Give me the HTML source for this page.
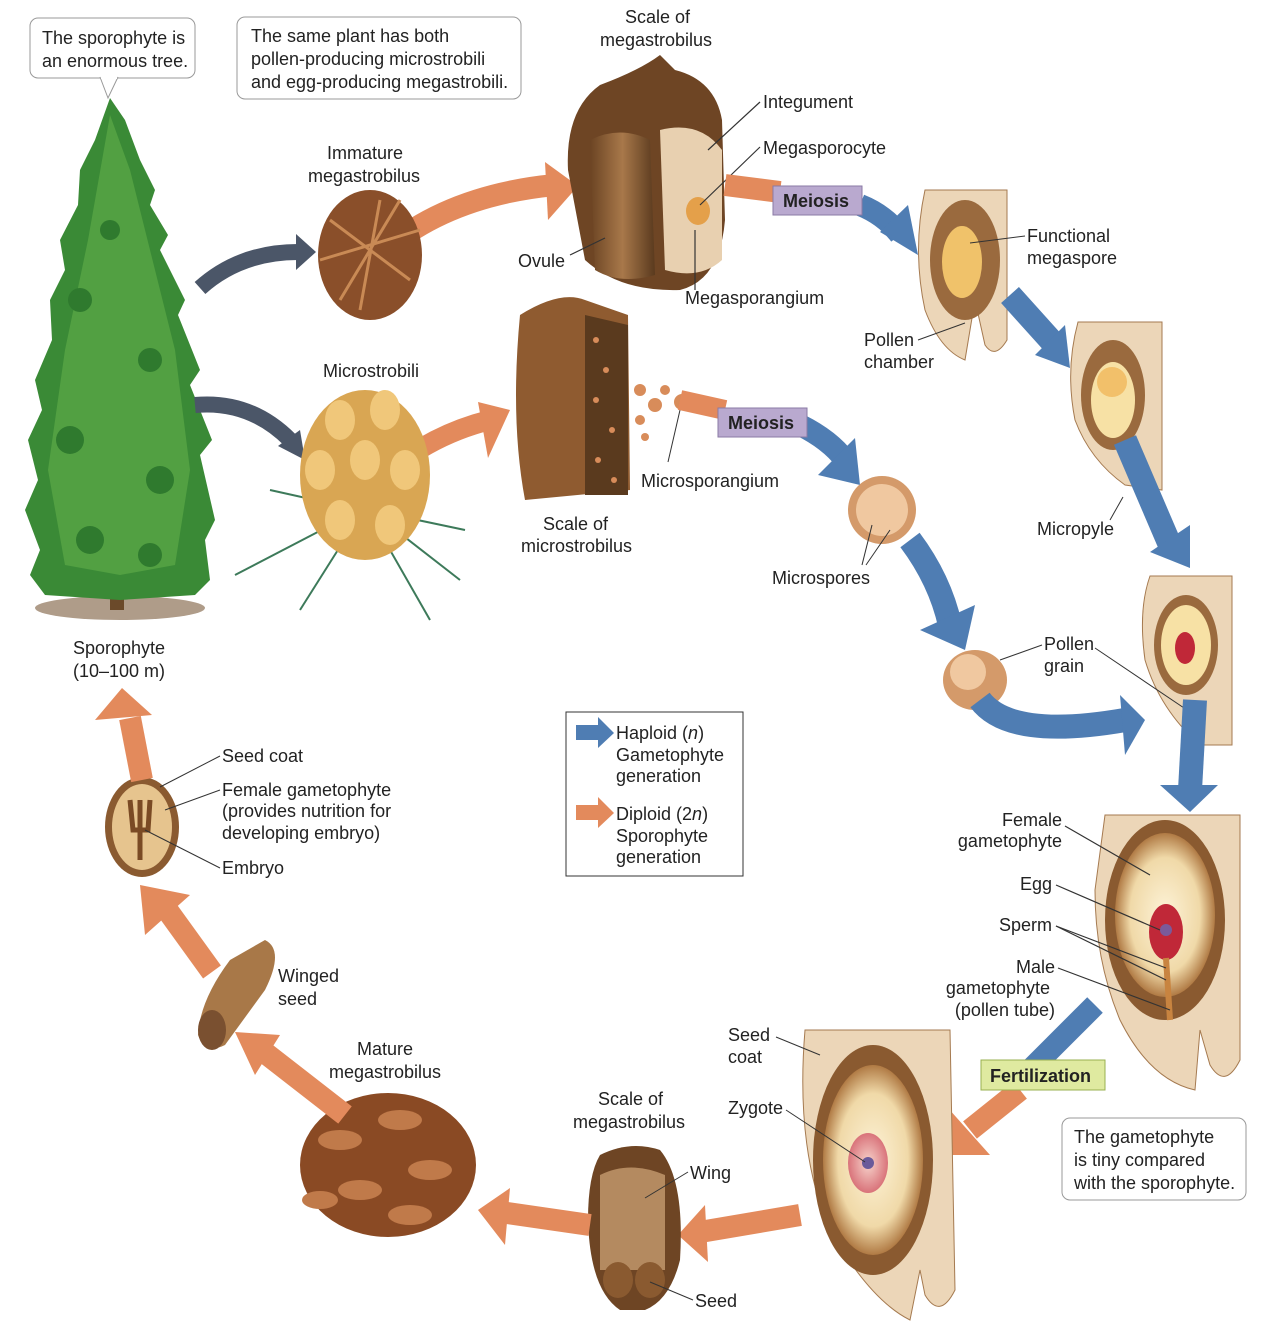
<!DOCTYPE html>
<html><head><meta charset="utf-8">
<style>
html,body{margin:0;padding:0;background:#fff;}
svg{display:block;}
text{font-family:"Liberation Sans",sans-serif;font-size:18px;fill:#222;}
.b{font-weight:bold;}
</style></head><body>
<svg width="1282" height="1340" viewBox="0 0 1282 1340" xmlns="http://www.w3.org/2000/svg">
<rect width="1282" height="1340" fill="#fff"/>
<defs>
<linearGradient id="br" x1="0" x2="1"><stop offset="0" stop-color="#6b4423"/><stop offset=".5" stop-color="#a8784a"/><stop offset="1" stop-color="#5a3a1e"/></linearGradient>
<radialGradient id="cr"><stop offset="0" stop-color="#fdf3d8"/><stop offset=".7" stop-color="#f0d9a8"/><stop offset="1" stop-color="#b07a44"/></radialGradient>
<radialGradient id="pk"><stop offset="0" stop-color="#f7d4cc"/><stop offset="1" stop-color="#d9737a"/></radialGradient>
</defs>

<!-- Tree -->
<ellipse cx="120" cy="608" rx="85" ry="12" fill="#7a5a3a" opacity=".6"/>
<rect x="110" y="300" width="14" height="310" fill="#6b4a2a"/>
<path d="M110,98 L125,120 L140,160 L155,190 L150,205 L168,235 L160,250 L185,300 L178,315 L200,370 L190,385 L212,440 L200,455 L215,520 L205,540 L210,580 L195,595 L120,600 L45,595 L30,575 L40,550 L25,510 L38,480 L28,440 L42,410 L35,380 L52,340 L50,300 L65,270 L60,240 L78,205 L80,170 L95,140 Z" fill="#3a8a36"/>
<path d="M110,115 L130,170 L150,250 L175,350 L190,470 L175,565 L120,575 L65,565 L48,470 L65,350 L88,240 Z" fill="#52a042"/>
<g fill="#2f7a2e"><circle cx="80" cy="300" r="12"/><circle cx="150" cy="360" r="12"/><circle cx="70" cy="440" r="14"/><circle cx="160" cy="480" r="14"/><circle cx="110" cy="230" r="10"/><circle cx="90" cy="540" r="14"/><circle cx="150" cy="555" r="12"/></g>

<!-- callouts -->
<rect x="30" y="18" width="165" height="60" rx="8" fill="#fff" stroke="#999"/>
<path d="M100,77 L108,98 L118,77" fill="#fff" stroke="#999"/>
<rect x="101" y="75" width="16" height="4" fill="#fff"/>
<text x="42" y="44">The sporophyte is</text><text x="42" y="67">an enormous tree.</text>
<rect x="237" y="17" width="284" height="82" rx="8" fill="#fff" stroke="#999"/>
<text x="251" y="42">The same plant has both</text><text x="251" y="65">pollen-producing microstrobili</text><text x="251" y="88">and egg-producing megastrobili.</text>

<!-- dark arrows -->
<path d="M200,288 Q240,252 298,252" stroke="#4b5668" stroke-width="16" fill="none"/>
<polygon points="296,234 316,252 296,270" fill="#4b5668"/>
<path d="M195,405 Q250,400 290,440" stroke="#4b5668" stroke-width="16" fill="none"/>
<polygon points="278,446 305,460 300,430" fill="#4b5668"/>

<!-- orange arrows top -->
<path d="M385,250 Q450,195 555,185" stroke="#e38a5c" stroke-width="22" fill="none"/>
<polygon points="545,162 578,186 548,220" fill="#e38a5c"/>
<path d="M355,505 Q410,440 490,420" stroke="#e38a5c" stroke-width="20" fill="none"/>
<polygon points="478,402 510,410 488,458" fill="#e38a5c"/>

<!-- immature megastrobilus -->
<ellipse cx="370" cy="255" rx="52" ry="65" fill="#8a4f2a"/>
<path d="M330,220 L410,280 M320,260 L420,230 M340,300 L400,200 M360,310 L380,200" stroke="#c98a55" stroke-width="3"/>
<text x="327" y="159">Immature</text><text x="308" y="182">megastrobilus</text>

<!-- microstrobili -->
<g stroke="#3d7a5a" stroke-width="2"><line x1="360" y1="510" x2="235" y2="575"/><line x1="360" y1="510" x2="270" y2="490"/><line x1="370" y1="510" x2="465" y2="530"/><line x1="370" y1="515" x2="430" y2="620"/><line x1="360" y1="515" x2="300" y2="610"/><line x1="370" y1="510" x2="460" y2="580"/></g>
<ellipse cx="365" cy="475" rx="65" ry="85" fill="#d9a653"/>
<g fill="#f0c77a"><ellipse cx="340" cy="420" rx="15" ry="20"/><ellipse cx="385" cy="410" rx="15" ry="20"/><ellipse cx="320" cy="470" rx="15" ry="20"/><ellipse cx="365" cy="460" rx="15" ry="20"/><ellipse cx="405" cy="470" rx="15" ry="20"/><ellipse cx="340" cy="520" rx="15" ry="20"/><ellipse cx="390" cy="525" rx="15" ry="20"/></g>
<text x="323" y="377">Microstrobili</text>

<text x="73" y="654">Sporophyte</text><text x="73" y="677">(10–100 m)</text>

<!-- scale of megastrobilus top -->
<path d="M660,55 Q640,70 600,85 Q565,110 568,170 L585,260 Q620,292 680,290 Q720,280 725,220 L722,120 Q715,80 675,70 Z" fill="#6e4524"/>
<path d="M590,140 Q620,125 650,140 L655,275 Q620,285 595,270 Z" fill="url(#br)"/>
<path d="M660,130 Q700,120 722,150 L722,260 Q700,280 665,270 Z" fill="#e8d0b0"/>
<ellipse cx="698" cy="211" rx="12" ry="14" fill="#e4a04a"/>
<text x="625" y="23">Scale of</text><text x="600" y="46">megastrobilus</text>
<g stroke="#333" stroke-width="1.2"><line x1="708" y1="150" x2="760" y2="102"/><line x1="700" y1="205" x2="760" y2="147"/><line x1="695" y1="230" x2="695" y2="290"/><line x1="570" y1="255" x2="605" y2="238"/></g>
<text x="763" y="108">Integument</text><text x="763" y="154">Megasporocyte</text><text x="685" y="304">Megasporangium</text><text x="518" y="267">Ovule</text>

<!-- meiosis top -->
<path d="M725,185 L780,192" stroke="#e38a5c" stroke-width="22"/>
<path d="M860,205 Q885,215 900,235" stroke="#4f7db3" stroke-width="22" fill="none"/>
<polygon points="880,232 918,255 908,205" fill="#4f7db3"/>
<rect x="773" y="186" width="89" height="29" fill="#b9a9cf" stroke="#8a7aa5"/>
<text x="783" y="207" class="b">Meiosis</text>

<!-- ovule 1 -->
<path d="M925,190 L1007,190 L1007,340 Q995,360 985,345 L975,300 L965,360 Q940,350 925,310 Q912,250 925,190 Z" fill="#ecd6b8" stroke="#a57a50"/>
<ellipse cx="965" cy="260" rx="35" ry="60" fill="#9a6a3e"/>
<ellipse cx="962" cy="262" rx="20" ry="36" fill="#f0c26a"/>
<text x="1027" y="242">Functional</text><text x="1027" y="264">megaspore</text>
<text x="864" y="346">Pollen</text><text x="864" y="368">chamber</text>
<line x1="970" y1="243" x2="1025" y2="236" stroke="#333"/><line x1="918" y1="340" x2="965" y2="323" stroke="#333"/>

<path d="M1010,295 L1055,345" stroke="#4f7db3" stroke-width="24"/>
<polygon points="1035,355 1070,368 1065,325" fill="#4f7db3"/>

<!-- ovule 2 -->
<path d="M1078,322 L1162,322 L1162,490 L1125,485 Q1090,460 1075,420 Q1065,370 1078,322 Z" fill="#ecd6b8" stroke="#a57a50"/>
<ellipse cx="1113" cy="395" rx="32" ry="55" fill="#9a6a3e"/>
<ellipse cx="1113" cy="400" rx="22" ry="38" fill="#f7e1a5"/>
<circle cx="1112" cy="382" r="15" fill="#f2c06a"/>
<path d="M1125,440 L1170,545" stroke="#4f7db3" stroke-width="24"/>
<polygon points="1150,552 1190,568 1190,525" fill="#4f7db3"/>
<text x="1037" y="535">Micropyle</text><line x1="1110" y1="520" x2="1123" y2="497" stroke="#333"/>

<!-- ovule 3 -->
<path d="M1150,576 L1232,576 L1232,745 Q1215,745 1200,745 Q1160,710 1145,660 Q1138,610 1150,576 Z" fill="#ecd6b8" stroke="#a57a50"/>
<ellipse cx="1186" cy="645" rx="32" ry="50" fill="#9a6a3e"/>
<ellipse cx="1186" cy="645" rx="25" ry="40" fill="#f7e1a5"/>
<ellipse cx="1185" cy="648" rx="10" ry="16" fill="#c02838"/>
<text x="1044" y="650">Pollen</text><text x="1044" y="672">grain</text>
<line x1="1095" y1="648" x2="1190" y2="712" stroke="#333"/><line x1="1042" y1="645" x2="1000" y2="660" stroke="#333"/>

<!-- scale of microstrobilus -->
<path d="M520,315 Q560,290 585,300 L628,315 L630,490 L525,500 Q510,420 520,315 Z" fill="#8f5b30"/>
<path d="M585,315 L628,325 L628,495 L585,495 Z" fill="#5a3a1e"/>
<g fill="#d88c5a"><circle cx="596" cy="340" r="3"/><circle cx="606" cy="370" r="3"/><circle cx="596" cy="400" r="3"/><circle cx="612" cy="430" r="3"/><circle cx="598" cy="460" r="3"/><circle cx="614" cy="480" r="3"/><circle cx="640" cy="390" r="6"/><circle cx="655" cy="405" r="7"/><circle cx="665" cy="390" r="5"/><circle cx="640" cy="420" r="5"/><circle cx="682" cy="402" r="8"/><circle cx="645" cy="437" r="4"/></g>
<text x="543" y="530">Scale of</text><text x="521" y="552">microstrobilus</text>
<text x="641" y="487">Microsporangium</text><line x1="668" y1="462" x2="680" y2="410" stroke="#333"/>

<path d="M680,400 L725,410" stroke="#e38a5c" stroke-width="20"/>
<path d="M800,425 Q830,440 845,460" stroke="#4f7db3" stroke-width="22" fill="none"/>
<polygon points="818,475 860,485 855,438" fill="#4f7db3"/>
<rect x="718" y="408" width="89" height="29" fill="#b9a9cf" stroke="#8a7aa5"/>
<text x="728" y="429" class="b">Meiosis</text>

<!-- microspores -->
<circle cx="882" cy="510" r="34" fill="#d49a6a"/><circle cx="882" cy="510" r="26" fill="#f0c8a0"/>
<text x="772" y="584">Microspores</text>
<line x1="872" y1="525" x2="862" y2="565" stroke="#333"/><line x1="890" y1="530" x2="866" y2="565" stroke="#333"/>
<path d="M910,540 Q940,580 950,625" stroke="#4f7db3" stroke-width="24" fill="none"/>
<polygon points="920,630 965,650 975,605" fill="#4f7db3"/>

<!-- pollen grain -->
<ellipse cx="975" cy="680" rx="32" ry="30" fill="#d49a6a"/><circle cx="968" cy="672" r="18" fill="#f0c8a0"/>
<path d="M980,700 Q1010,740 1125,720" stroke="#4f7db3" stroke-width="24" fill="none"/>
<polygon points="1120,695 1145,720 1125,755" fill="#4f7db3"/>
<path d="M1195,700 L1190,790" stroke="#4f7db3" stroke-width="24"/>
<polygon points="1160,785 1190,812 1218,785" fill="#4f7db3"/>

<!-- legend -->
<rect x="566" y="712" width="177" height="164" fill="#fff" stroke="#333"/>
<polygon points="576,725 598,725 598,717 614,733 598,748 598,740 576,740" fill="#4f7db3"/>
<text x="616" y="739">Haploid (<tspan font-style="italic">n</tspan>)</text><text x="616" y="761">Gametophyte</text><text x="616" y="782">generation</text>
<polygon points="576,805 598,805 598,797 614,813 598,828 598,820 576,820" fill="#e38a5c"/>
<text x="616" y="820">Diploid (2<tspan font-style="italic">n</tspan>)</text><text x="616" y="842">Sporophyte</text><text x="616" y="863">generation</text>

<!-- big female gametophyte -->
<path d="M1105,815 L1240,815 L1240,1060 Q1225,1090 1210,1065 L1200,1030 L1195,1090 Q1150,1080 1120,1020 Q1095,960 1095,890 Z" fill="#ecd6b8" stroke="#a57a50"/>
<ellipse cx="1165" cy="920" rx="60" ry="100" fill="#8a5a30"/>
<ellipse cx="1165" cy="915" rx="50" ry="82" fill="url(#cr)"/>
<ellipse cx="1166" cy="932" rx="17" ry="28" fill="#c02838"/><circle cx="1166" cy="930" r="6" fill="#7a5a9a"/>
<path d="M1166,958 L1170,1020" stroke="#c88440" stroke-width="6"/>
<text x="1062" y="826" text-anchor="end">Female</text><text x="1062" y="847" text-anchor="end">gametophyte</text>
<text x="1052" y="890" text-anchor="end">Egg</text><text x="1052" y="931" text-anchor="end">Sperm</text>
<text x="1055" y="973" text-anchor="end">Male</text><text x="1050" y="994" text-anchor="end">gametophyte</text><text x="1055" y="1016" text-anchor="end">(pollen tube)</text>
<g stroke="#333" stroke-width="1.2"><line x1="1065" y1="826" x2="1150" y2="875"/><line x1="1056" y1="885" x2="1160" y2="930"/><line x1="1056" y1="926" x2="1166" y2="968"/><line x1="1056" y1="926" x2="1166" y2="980"/><line x1="1058" y1="968" x2="1170" y2="1010"/></g>

<path d="M1095,1005 L1025,1075" stroke="#4f7db3" stroke-width="22"/>
<path d="M1020,1090 L970,1130" stroke="#e38a5c" stroke-width="22"/>
<polygon points="948,1108 952,1155 990,1155" fill="#e38a5c"/>
<rect x="981" y="1060" width="124" height="30" fill="#dfeaa0" stroke="#9ab050"/>
<text x="990" y="1082" class="b">Fertilization</text>

<rect x="1062" y="1118" width="184" height="82" rx="8" fill="#fff" stroke="#999"/>
<text x="1074" y="1143">The gametophyte</text><text x="1074" y="1166">is tiny compared</text><text x="1074" y="1189">with the sporophyte.</text>

<!-- zygote seed -->
<path d="M805,1030 L950,1030 L955,1290 Q940,1320 925,1295 L920,1270 L910,1320 Q870,1300 830,1230 Q795,1150 805,1030 Z" fill="#ecd6b8" stroke="#a57a50"/>
<ellipse cx="873" cy="1160" rx="60" ry="115" fill="#8a5a30"/>
<ellipse cx="873" cy="1160" rx="50" ry="95" fill="url(#cr)"/>
<ellipse cx="868" cy="1163" rx="20" ry="30" fill="url(#pk)"/><circle cx="868" cy="1163" r="6" fill="#6a5a9a"/>
<text x="728" y="1041">Seed</text><text x="728" y="1063">coat</text><text x="728" y="1114">Zygote</text>
<line x1="776" y1="1037" x2="820" y2="1055" stroke="#333"/><line x1="786" y1="1110" x2="865" y2="1162" stroke="#333"/>

<path d="M800,1215 L700,1232" stroke="#e38a5c" stroke-width="22"/>
<polygon points="705,1205 678,1235 708,1262" fill="#e38a5c"/>

<!-- lower scale -->
<path d="M600,1155 Q630,1140 660,1150 Q685,1180 680,1260 Q670,1300 645,1310 L620,1310 Q590,1290 588,1220 Q588,1175 600,1155 Z" fill="#6e4524"/>
<path d="M600,1175 Q630,1160 665,1175 L665,1270 L600,1270 Z" fill="#b48a60"/>
<ellipse cx="618" cy="1280" rx="15" ry="18" fill="#8a5a30"/><ellipse cx="650" cy="1280" rx="15" ry="18" fill="#8a5a30"/>
<text x="598" y="1105">Scale of</text><text x="573" y="1128">megastrobilus</text>
<text x="690" y="1179">Wing</text><text x="695" y="1307">Seed</text>
<line x1="645" y1="1198" x2="688" y2="1172" stroke="#333"/><line x1="650" y1="1282" x2="693" y2="1300" stroke="#333"/>

<path d="M590,1225 L500,1212" stroke="#e38a5c" stroke-width="22"/>
<polygon points="510,1188 478,1210 505,1245" fill="#e38a5c"/>

<!-- mature megastrobilus -->
<ellipse cx="388" cy="1165" rx="88" ry="72" fill="#8a4a24"/>
<g fill="#c07a4a"><ellipse cx="340" cy="1140" rx="22" ry="10"/><ellipse cx="400" cy="1120" rx="22" ry="10"/><ellipse cx="430" cy="1170" rx="22" ry="10"/><ellipse cx="360" cy="1190" rx="22" ry="10"/><ellipse cx="410" cy="1215" rx="22" ry="10"/><ellipse cx="320" cy="1200" rx="18" ry="9"/></g>
<text x="357" y="1055">Mature</text><text x="329" y="1078">megastrobilus</text>

<path d="M345,1115 L255,1045" stroke="#e38a5c" stroke-width="22"/>
<polygon points="235,1032 280,1035 255,1075" fill="#e38a5c"/>

<!-- winged seed -->
<path d="M265,940 Q285,950 265,990 L225,1045 Q205,1055 198,1035 Q200,1000 230,960 Z" fill="#a87848"/>
<ellipse cx="212" cy="1030" rx="14" ry="20" fill="#7a5030"/>
<text x="278" y="982">Winged</text><text x="278" y="1005">seed</text>

<path d="M212,972 L160,900" stroke="#e38a5c" stroke-width="22"/>
<polygon points="140,885 190,895 145,935" fill="#e38a5c"/>

<!-- seed -->
<ellipse cx="142" cy="827" rx="37" ry="50" fill="#8a5a30"/>
<ellipse cx="142" cy="827" rx="30" ry="43" fill="#e6c48e"/>
<path d="M140,800 L140,860 M130,800 L133,830 L148,830 L150,800" stroke="#7a4a24" stroke-width="5" fill="none"/>
<text x="222" y="762">Seed coat</text><text x="222" y="796">Female gametophyte</text><text x="222" y="817">(provides nutrition for</text><text x="222" y="839">developing embryo)</text><text x="222" y="874">Embryo</text>
<g stroke="#333"><line x1="160" y1="787" x2="220" y2="756"/><line x1="165" y1="810" x2="220" y2="790"/><line x1="145" y1="830" x2="220" y2="868"/></g>

<path d="M142,780 L130,718" stroke="#e38a5c" stroke-width="22"/>
<polygon points="95,720 122,688 152,715" fill="#e38a5c"/>
</svg>
</body></html>
